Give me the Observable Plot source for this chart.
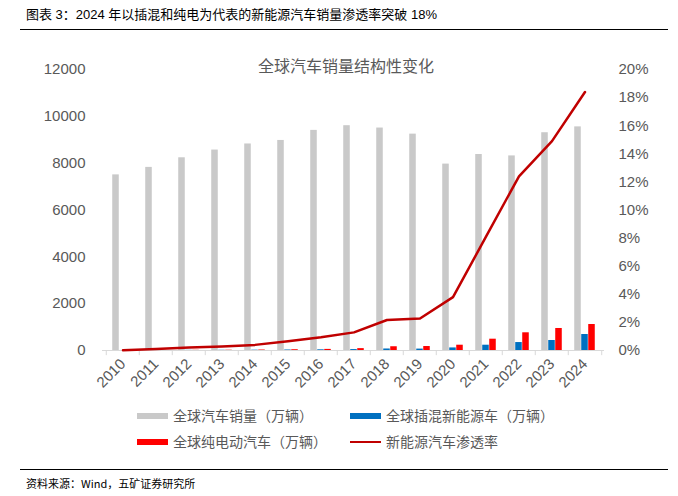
<!DOCTYPE html>
<html><head><meta charset="utf-8">
<script src="https://cdn.jsdelivr.net/npm/d3@7"></script>
<script src="https://cdn.jsdelivr.net/npm/@observablehq/plot@0.6"></script>
<style>
body{margin:0;background:#fff;width:678px;height:496px;position:relative;overflow:hidden;font-family:"Liberation Sans","Noto Sans CJK SC",sans-serif;}
#hdr{position:absolute;left:26px;top:4px;font-size:13px;color:#000;font-family:"Liberation Sans","Noto Sans CJK SC",sans-serif;}
#hline{position:absolute;left:20px;width:648px;top:29px;height:0;border-top:1.5px solid #000;}
#fline{position:absolute;left:20px;width:648px;top:469px;height:0;border-top:1.5px solid #000;}
#ftr{position:absolute;left:26px;top:475px;font-size:11px;color:#000;font-family:"Noto Sans CJK SC",sans-serif;}
#chart{position:absolute;left:0;top:40px;}
.leg{position:absolute;font-size:14px;color:#595959;font-family:"Noto Sans CJK SC",sans-serif;line-height:18px;}
.sw{position:absolute;}
</style></head>
<body>
<div id="hdr">图表 3：2024 年以插混和纯电为代表的新能源汽车销量渗透率突破 18%</div>
<div id="hline"></div>
<div id="chart"></div>
<div id="legend"></div>
<div id="fline"></div>
<div id="ftr">资料来源：Wind，五矿证券研究所</div>
<script>
const years = ["2010","2011","2012","2013","2014","2015","2016","2017","2018","2019","2020","2021","2022","2023","2024"];
const totalSales = [7500,7820,8230,8560,8820,8970,9400,9600,9500,9240,7960,8370,8310,9300,9550];
const phevSales = [1,3,7,10,14,22,30,40,65,60,110,226,340,427,683];
const bevSales = [2,5,8,12,20,33,47,80,160,170,226,483,756,940,1110];
const penetration = [0.02,0.10,0.21,0.28,0.40,0.66,0.94,1.29,2.17,2.28,3.80,8.1,12.4,14.9,18.4];
const leftTicks = [0,2000,4000,6000,8000,10000,12000];
const rightTicks = [0,2,4,6,8,10,12,14,16,18,20];
const chartTitle = "全球汽车销量结构性变化";
const legendItems = [
  {label:"全球汽车销量（万辆）", color:"#C9C9C9", kind:"bar"},
  {label:"全球插混新能源车（万辆）", color:"#0070C0", kind:"bar"},
  {label:"全球纯电动汽车（万辆）", color:"#FF0000", kind:"bar"},
  {label:"新能源汽车渗透率", color:"#C00000", kind:"line"}
];

const W = 678, H = 360, mL = 102, mR = 74, mT = 29, mB = 50;
const bw = (W - mL - mR) / years.length;
const gw = 7, pad = (bw - 3*gw)/2;
const scaleFactor = 12000/20;
const data = years.map((y,i)=>({year:y,total:totalSales[i],phev:phevSales[i],bev:bevSales[i],pen:penetration[i]}));
const grey = "#595959";

const chart = Plot.plot({
  width: W, height: H, marginLeft: mL, marginRight: mR, marginTop: mT, marginBottom: mB,
  style:{fontFamily:"'Liberation Sans', Arial, sans-serif", fontSize:"15px", color:grey, background:"#fff"},
  x:{type:"band", domain:years, padding:0},
  y:{domain:[0,12000]},
  marks:[
    Plot.barY(data,{x:"year",y:"total",fill:"#C9C9C9",insetLeft:pad,insetRight:bw-pad-gw}),
    Plot.barY(data,{x:"year",y:"phev",fill:"#0070C0",insetLeft:pad+gw,insetRight:bw-pad-2*gw}),
    Plot.barY(data,{x:"year",y:"bev",fill:"#FF0000",insetLeft:pad+2*gw,insetRight:pad}),
    Plot.ruleY([0],{stroke:"#D9D9D9",strokeWidth:1}),
    Plot.ruleX(data,{x:"year",y1:0,y2:-220,dx:-bw/2,stroke:"#D9D9D9"}),
    Plot.ruleX(data.slice(-1),{x:"year",y1:0,y2:-220,dx:bw/2,stroke:"#D9D9D9"}),
    Plot.line(data,{x:"year",y:d=>d.pen*scaleFactor,stroke:"#C00000",strokeWidth:2.5,curve:"linear"}),
    Plot.axisY({ticks:leftTicks,tickFormat:d=>String(d),tickSize:0,tickPadding:17,fontSize:15,fill:grey,label:null}),
    Plot.axisY({anchor:"right",ticks:rightTicks.map(t=>t*scaleFactor),tickFormat:d=>Math.round(d/scaleFactor)+"%",tickSize:0,tickPadding:14,fontSize:15,fill:grey,label:null}),
    Plot.axisX({tickSize:0,tickRotate:-45,tickPadding:11,fontSize:15,fill:grey,label:null}),
    Plot.text([chartTitle],{frameAnchor:"top",dy:-9,fontSize:16,fill:grey,fontFamily:"'Noto Sans CJK SC', sans-serif",dx:-7.5})
  ]
});
document.getElementById("chart").appendChild(chart);

const leg = document.getElementById("legend");
const pos = [[137,416],[350,416],[137,442],[350,442]];
legendItems.forEach((it,i)=>{
  const [x,y] = pos[i];
  const sw = document.createElement("div");
  sw.className="sw";
  sw.style.left = x+"px"; sw.style.width="31px";
  if(it.kind==="bar"){ sw.style.top=(y-3)+"px"; sw.style.height="6px"; }
  else { sw.style.top=(y-1)+"px"; sw.style.height="2px"; }
  sw.style.background = it.color;
  leg.appendChild(sw);
  const t = document.createElement("div");
  t.className="leg"; t.textContent = it.label;
  t.style.left=(x+36)+"px"; t.style.top=(y-10)+"px";
  leg.appendChild(t);
});
</script>
</body></html>
